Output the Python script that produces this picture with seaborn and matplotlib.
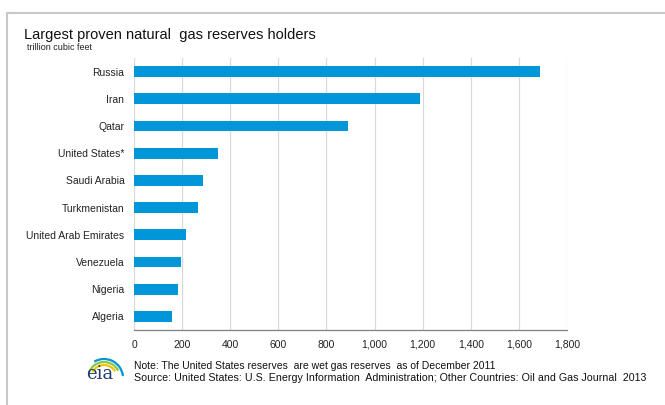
import matplotlib
matplotlib.use('Agg')
import matplotlib.pyplot as plt
import seaborn as sns
import pandas as pd
from matplotlib.patches import Arc
from matplotlib.lines import Line2D
from matplotlib.ticker import FuncFormatter

countries = ['Russia', 'Iran', 'Qatar', 'United States*', 'Saudi Arabia', 'Turkmenistan',
             'United Arab Emirates', 'Venezuela', 'Nigeria', 'Algeria']
reserves = [1688, 1187, 890, 349, 287, 265, 215, 195, 182, 159]
x_ticks = [0, 200, 400, 600, 800, 1000, 1200, 1400, 1600, 1800]

df = pd.DataFrame({'country': countries, 'reserves': reserves})

sns.set_style('white')
plt.rcParams['font.family'] = ['Liberation Sans', 'DejaVu Sans']

fig = plt.figure(figsize=(6.65, 4.05), dpi=100)
ax = fig.add_axes([134 / 665, 1 - 330 / 405, 433 / 665, 272 / 405])

sns.barplot(data=df, x='reserves', y='country', orient='h', color='#0096d7',
            width=0.4, saturation=1, ax=ax)
for bar in ax.patches:
    # bar thickness as in the original
    cy = bar.get_y() + bar.get_height() / 2
    bar.set_height(0.4)
    bar.set_y(cy - 0.2)
    bar.set_linewidth(0)

ax.set_xlim(0, 1800)
ax.set_ylim(9.5, -0.5)
ax.set_xticks(x_ticks)
ax.xaxis.set_major_formatter(FuncFormatter(lambda v, p: f'{int(v):,}'))
ax.grid(axis='x', color='#d9d9d9', linewidth=0.9)
ax.set_axisbelow(True)
ax.set_xlabel('')
ax.set_ylabel('')
for side in ['top', 'right', 'left']:
    ax.spines[side].set_visible(False)
ax.spines['bottom'].set_color('#808080')
ax.spines['bottom'].set_linewidth(0.9)
ax.tick_params(axis='x', length=4, color='#808080', labelsize=7.5, pad=3, labelcolor='#222222')
ax.tick_params(axis='y', length=0, labelsize=7.5, pad=7, labelcolor='#222222')

# frame lines
fig.add_artist(Line2D([7 / 665, 7 / 665], [0, 1 - 13 / 405], color='#c8c8c8', lw=1.5,
                      transform=fig.transFigure))
fig.add_artist(Line2D([7 / 665, 1], [1 - 13 / 405, 1 - 13 / 405], color='#c8c8c8', lw=1.5,
                      transform=fig.transFigure))

fig.text(24 / 665, 1 - 35 / 405, 'Largest proven natural  gas reserves holders',
         fontsize=10.5, color='#111111', va='center', ha='left')
fig.text(27 / 665, 1 - 47 / 405, 'trillion cubic feet', fontsize=6.5,
         color='#222222', va='center', ha='left')

fig.text(134 / 665, 1 - 366 / 405,
         'Note: The United States reserves  are wet gas reserves  as of December 2011',
         fontsize=7.5, color='#111111', va='center', ha='left')
fig.text(134 / 665, 1 - 378 / 405,
         'Source: United States: U.S. Energy Information  Administration; Other Countries: Oil and Gas Journal  2013',
         fontsize=7.7, color='#111111', va='center', ha='left')

# eia logo
fig.text(100 / 665, 1 - 374 / 405, 'eia', family='DejaVu Serif', fontsize=13,
         color='#1f3d6b', va='center', ha='center')
for r, col, th in [(16, '#8dc63f', (40, 150)), (13, '#f2c300', (45, 140)), (19, '#0096d7', (10, 110))]:
    fig.add_artist(Arc((104 / 665, 1 - 378 / 405), 2 * r / 665, 2 * r / 405,
                       theta1=th[0], theta2=th[1], color=col, lw=1.6,
                       transform=fig.transFigure))

fig.savefig('out.png', dpi=100)
